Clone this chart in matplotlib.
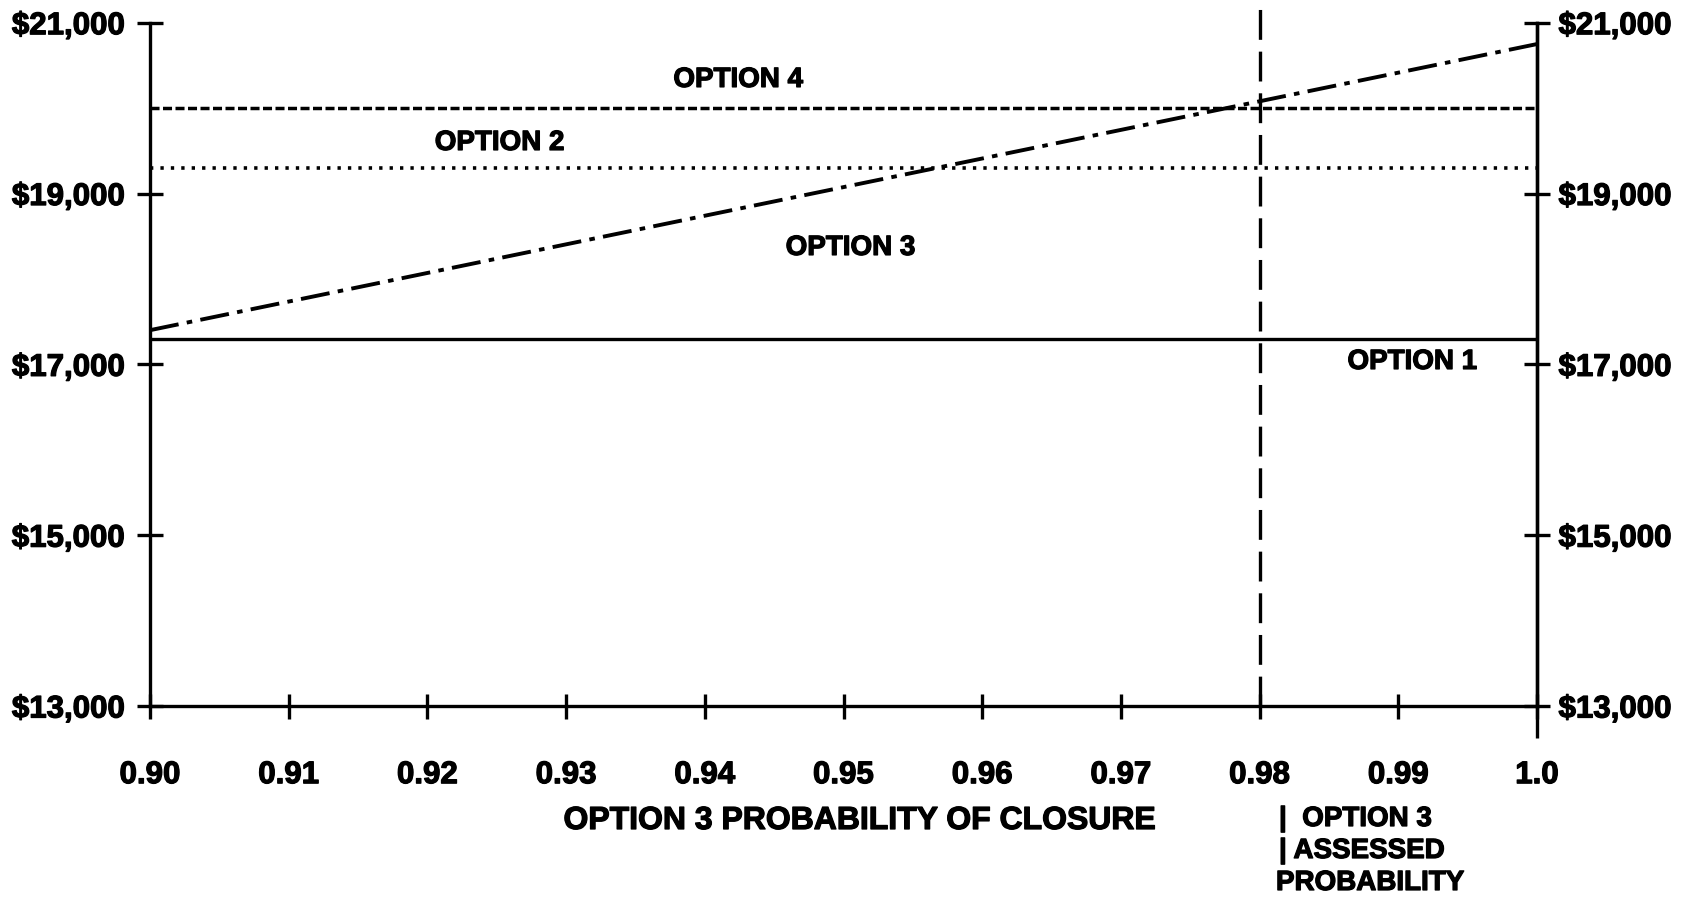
import matplotlib
matplotlib.use("Agg")
import matplotlib.pyplot as plt
import matplotlib.patheffects as pe

# ---- data ----
prob_ticks = [0.90, 0.91, 0.92, 0.93, 0.94, 0.95, 0.96, 0.97, 0.98, 0.99, 1.00]
prob_labels = ["0.90", "0.91", "0.92", "0.93", "0.94", "0.95", "0.96", "0.97", "0.98", "0.99", "1.0"]
cost_ticks = [13000, 15000, 17000, 19000, 21000]
cost_labels = ["$13,000", "$15,000", "$17,000", "$19,000", "$21,000"]

option1_cost = 17300
option2_cost = 19300
option4_cost = 20000
option3_prob = [0.90, 1.00]
option3_cost = [17400, 20750]
assessed_prob = 0.98

plt.rcParams["font.family"] = ["Liberation Sans", "DejaVu Sans"]
plt.rcParams["font.weight"] = "bold"
plt.rcParams["lines.scale_dashes"] = False

heavy = [pe.withStroke(linewidth=0.9, foreground="black")]

W, H = 1683, 897
fig = plt.figure(figsize=(W / 100, H / 100), dpi=100)
ax = fig.add_axes([150 / W, 1 - 706 / H, (1537 - 150) / W, (706 - 22.7) / H])

xmin, xmax = prob_ticks[0], prob_ticks[-1]
ymin, ymax = cost_ticks[0], cost_ticks[-1]
ax.set_xlim(xmin, xmax)
ax.set_ylim(ymin, ymax)

lw_axis = 2.4
# option lines
ax.plot([xmin, xmax], [option1_cost, option1_cost], color="black", lw=2.4, solid_capstyle="butt")
ax.plot([xmin, xmax], [option2_cost, option2_cost], color="black", lw=2.6,
        linestyle=(0, (2.4, 5.1)))
ax.plot([xmin, xmax], [option4_cost, option4_cost], color="black", lw=2.5,
        linestyle=(0, (6.5, 2.5)))
ax.plot(option3_prob, option3_cost, color="black", lw=2.8,
        linestyle=(0, (21, 6, 4, 6)))
# assessed probability marker
ax.plot([assessed_prob, assessed_prob], [ymin, 21210], color="black", lw=2.4,
        linestyle=(0, (21.5, 8.5)), clip_on=False)
# right axis extends below the x axis
ax.plot([xmax, xmax], [12625, ymin], color="black", lw=lw_axis, clip_on=False,
        solid_capstyle="butt")

ax.spines["top"].set_visible(False)
for s in ["left", "bottom", "right"]:
    ax.spines[s].set_linewidth(lw_axis)

ax.set_xticks(prob_ticks)
ax.set_xticklabels(prob_labels, fontsize=22.5, fontweight="bold")
ax.set_yticks(cost_ticks)
ax.set_yticklabels(cost_labels, fontsize=22.5, fontweight="bold")
ax.tick_params(axis="x", direction="inout", length=18, width=lw_axis, pad=30)
ax.tick_params(axis="y", direction="inout", length=19, width=lw_axis, pad=8.5)

ax2 = ax.twinx()
ax2.set_ylim(ymin, ymax)
ax2.set_yticks(cost_ticks)
ax2.set_yticklabels(cost_labels, fontsize=22.5, fontweight="bold")
ax2.tick_params(axis="y", direction="inout", length=19, width=lw_axis, pad=6)
for s in ["top", "left", "bottom"]:
    ax2.spines[s].set_visible(False)
ax2.spines["right"].set_linewidth(lw_axis)

for t in ax.get_xticklabels() + ax.get_yticklabels() + ax2.get_yticklabels():
    t.set_path_effects(heavy)

# line labels
lbl = dict(fontsize=20, fontweight="bold", ha="center", va="center", path_effects=heavy)
ax.text(0.9424, 20330, "OPTION 4", **lbl)
ax.text(0.9252, 19592, "OPTION 2", **lbl)
ax.text(0.9505, 18363, "OPTION 3", **lbl)
ax.text(0.9910, 17028, "OPTION 1", **lbl)

fig.text(860 / W, 1 - 821 / H, "OPTION 3 PROBABILITY OF CLOSURE",
         fontsize=23, fontweight="bold", ha="center", va="center", path_effects=heavy)

ann = dict(fontsize=20, fontweight="bold", ha="left", va="center", path_effects=heavy)
fig.text(1279 / W, 1 - 819 / H, "|  OPTION 3", **ann)
fig.text(1279 / W, 1 - 851 / H, "| ASSESSED", **ann)
fig.text(1276 / W, 1 - 883 / H, "PROBABILITY", **ann)

fig.savefig("out.png", dpi=100, facecolor="white")
